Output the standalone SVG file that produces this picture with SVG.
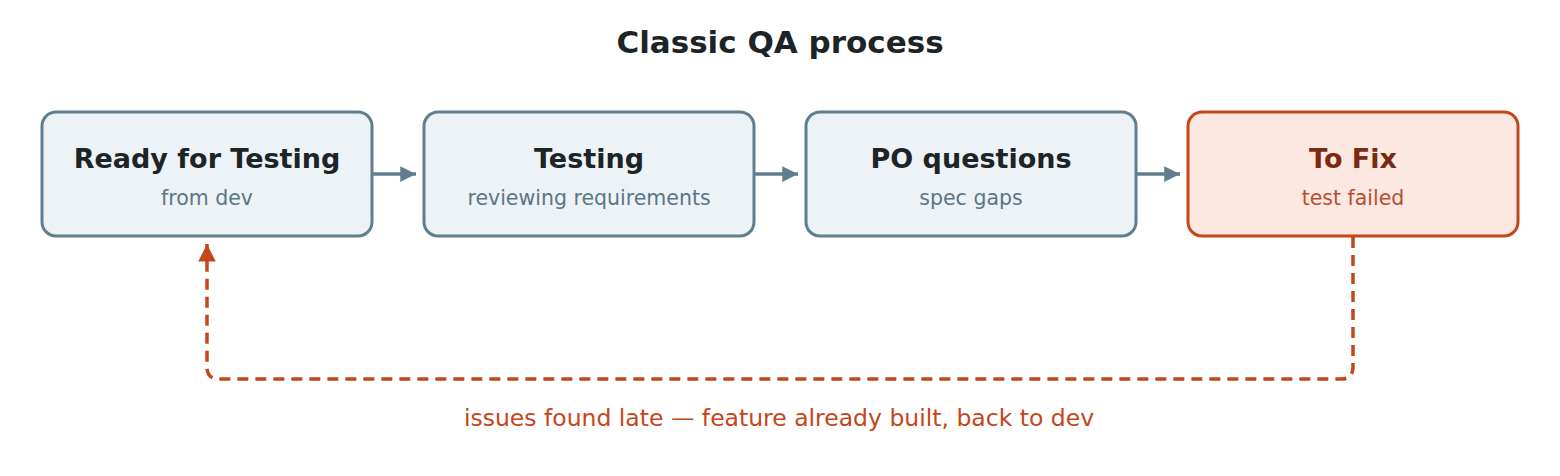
<svg xmlns="http://www.w3.org/2000/svg" width="1560" height="476" viewBox="0 0 1560 476">
<defs>
<style>
text{font-family:"DejaVu Sans","Noto Sans",sans-serif;text-anchor:middle}
.title{font-size:31px;font-weight:bold;fill:#1c2428}
.box{fill:#edf2f6;stroke:#5f7f8e;stroke-width:3}
.nt{font-size:27px;font-weight:bold;fill:#1c2428}
.ns{font-size:20.5px;fill:#5b7685}
.fbox{fill:#fce8e1;stroke:#c4461b;stroke-width:3}
.ft{font-size:27px;font-weight:bold;fill:#7a2a10}
.fs{font-size:20.5px;fill:#b5502f}
.flow{stroke:#5f7f8e;stroke-width:3.5;fill:none}
.back{stroke:#c4461b;stroke-width:3.5;fill:none;stroke-dasharray:11 7}
.lbl{font-size:23.5px;fill:#c4461b}
</style>
<marker id="ah" viewBox="0 0 10 10" refX="10" refY="5" markerWidth="4.5" markerHeight="4.5" markerUnits="strokeWidth" orient="auto">
<path d="M0,0 L10,5 L0,10 z" fill="#5f7f8e"/>
</marker>
<marker id="ahr" viewBox="0 0 10 10" refX="10" refY="5" markerWidth="5" markerHeight="5" markerUnits="strokeWidth" orient="auto">
<path d="M0,0 L10,5 L0,10 z" fill="#c4461b"/>
</marker>
</defs>
<rect width="1560" height="476" fill="#ffffff"/>
<text class="title" x="780" y="53">Classic QA process</text>
<g id="connectors">
<line class="flow" x1="372" y1="174" x2="416" y2="174" marker-end="url(#ah)"/>
<line class="flow" x1="754" y1="174" x2="798" y2="174" marker-end="url(#ah)"/>
<line class="flow" x1="1136" y1="174" x2="1180" y2="174" marker-end="url(#ah)"/>
<path class="back" d="M1353,237 L1353,367 Q1353,379 1341,379 L219,379 Q207,379 207,367 L207,244" marker-end="url(#ahr)"/>
<text class="lbl" x="779" y="426">issues found late — feature already built, back to dev</text>
</g>
<g id="node-ready">
<rect class="box" x="42" y="112" width="330" height="124" rx="14"/>
<text class="nt" x="207" y="168">Ready for Testing</text>
<text class="ns" x="207" y="205">from dev</text>
</g>
<g id="node-testing">
<rect class="box" x="424" y="112" width="330" height="124" rx="14"/>
<text class="nt" x="589" y="168">Testing</text>
<text class="ns" x="589" y="205">reviewing requirements</text>
</g>
<g id="node-po">
<rect class="box" x="806" y="112" width="330" height="124" rx="14"/>
<text class="nt" x="971" y="168">PO questions</text>
<text class="ns" x="971" y="205">spec gaps</text>
</g>
<g id="node-fix">
<rect class="fbox" x="1188" y="112" width="330" height="124" rx="14"/>
<text class="ft" x="1353" y="168">To Fix</text>
<text class="fs" x="1353" y="205">test failed</text>
</g>
</svg>
